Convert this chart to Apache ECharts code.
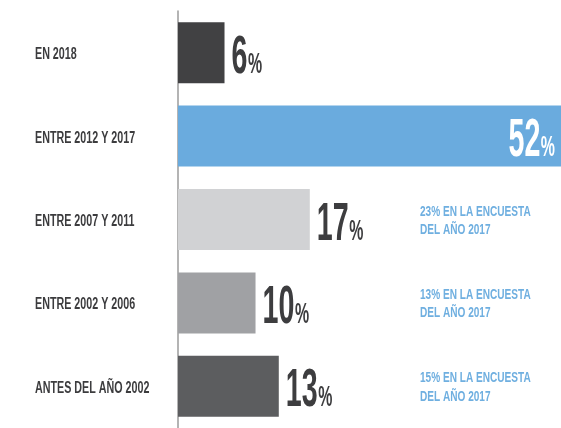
<!DOCTYPE html>
<html>
<head>
<meta charset="utf-8">
<script src="https://cdn.jsdelivr.net/npm/echarts@6/dist/echarts.min.js"></script>
<style>
html, body { margin: 0; padding: 0; background: #fff; }
#chart { width: 561px; height: 428px; }
</style>
</head>
<body>
<div id="chart"></div>
<script>
// 年份分布
const categories = ['EN 2018', 'ENTRE 2012 Y 2017', 'ENTRE 2007 Y 2011', 'ENTRE 2002 Y 2006', 'ANTES DEL AÑO 2002'];
const shares = [6, 52, 17, 10, 13];
const notes = ['', '', '23% EN LA ENCUESTA\nDEL AÑO 2017', '13% EN LA ENCUESTA\nDEL AÑO 2017', '15% EN LA ENCUESTA\nDEL AÑO 2017'];
const barColors = ['#414143', '#6aabde', '#d1d2d4', '#a0a1a4', '#5c5d5f'];

const FONT = '"Liberation Sans", Arial, sans-serif';
const NUM_SIZE = 54;
const PCT_SIZE = 30;
const SQUEEZE = 0.53; // condensed look for the big numbers
const CAT_SQUEEZE = 0.67;
const NOTE_SQUEEZE = 0.65;

const ctx = document.createElement('canvas').getContext('2d');
function measure(txt, size) {
    ctx.font = 'bold ' + size + 'px ' + FONT;
    ctx.textBaseline = 'middle';
    const w = ctx.measureText(txt).width;
    const h = ctx.measureText('H');
    // baseline distance below the middle line
    const drop = h.actualBoundingBoxDescent !== undefined ? h.actualBoundingBoxDescent : size * 0.36;
    return { w: w, drop: drop };
}

function renderLabel(params, api) {
    const i = params.dataIndex;
    const v = api.value(0);
    const end = api.coord([v, i]);
    const cs = params.coordSys;
    const right = cs.x + cs.width;
    const baseY = end[1] + 20;
    const numTxt = String(v);
    const n = measure(numTxt, NUM_SIZE);
    const p = measure('%', PCT_SIZE);
    const total = (n.w + 1 + p.w) * SQUEEZE;
    const inside = end[0] > right;
    const x = inside ? right - 6 - total : end[0] + 7;
    const fill = inside ? '#ffffff' : '#3d3d3f';
    const children = [
        // 分类名称
        {
            type: 'text',
            x: cs.x - 143,
            y: end[1] + 2,
            scaleX: CAT_SQUEEZE,
            style: {
                text: categories[i],
                font: 'bold 16px ' + FONT,
                fill: '#3c3c3e',
                textAlign: 'left',
                textVerticalAlign: 'middle'
            }
        },
        // 数值 + %
        {
            type: 'group',
            x: x,
            y: 0,
            scaleX: SQUEEZE,
            children: [
                {
                    type: 'text',
                    x: 0,
                    y: baseY - n.drop,
                    style: { text: numTxt, font: 'bold ' + NUM_SIZE + 'px ' + FONT, fill: fill, textAlign: 'left', textVerticalAlign: 'middle' }
                },
                {
                    type: 'text',
                    x: n.w + 1,
                    y: baseY - p.drop,
                    style: { text: '%', font: 'bold ' + PCT_SIZE + 'px ' + FONT, fill: fill, textAlign: 'left', textVerticalAlign: 'middle' }
                }
            ]
        }
    ];
    if (notes[i]) {
        children.push({
            type: 'text',
            x: cs.x + 242,
            y: end[1] + 1,
            scaleX: NOTE_SQUEEZE,
            style: {
                text: notes[i],
                font: 'bold 15.5px ' + FONT,
                fill: '#6fafe0',
                textAlign: 'left',
                textVerticalAlign: 'middle',
                lineHeight: 18.5
            }
        });
    }
    return { type: 'group', children: children };
}

const eChart = echarts.init(document.getElementById('chart'));
const option = {
    animation: false,
    grid: {
        left: 178,
        right: 0,
        top: 11,
        height: 419
    },
    xAxis: {
        type: 'value',
        min: 0,
        max: 49.4,
        show: false
    },
    yAxis: {
        type: 'category',
        data: categories,
        inverse: true,
        axisLine: {
            show: true,
            lineStyle: { color: '#9b9b9b', width: 1.5 }
        },
        axisTick: { show: false },
        splitLine: { show: false },
        axisLabel: { show: false }
    },
    series: [
        {
            type: 'bar',
            barWidth: 61,
            silent: true,
            data: shares.map((v, i) => ({ value: v, itemStyle: { color: barColors[i] } }))
        },
        {
            type: 'custom',
            silent: true,
            clip: false,
            z: 3,
            encode: { x: 0, y: 1 },
            renderItem: renderLabel,
            data: shares.map((v, i) => [v, i])
        }
    ]
};
eChart.setOption(option);
</script>
</body>
</html>
